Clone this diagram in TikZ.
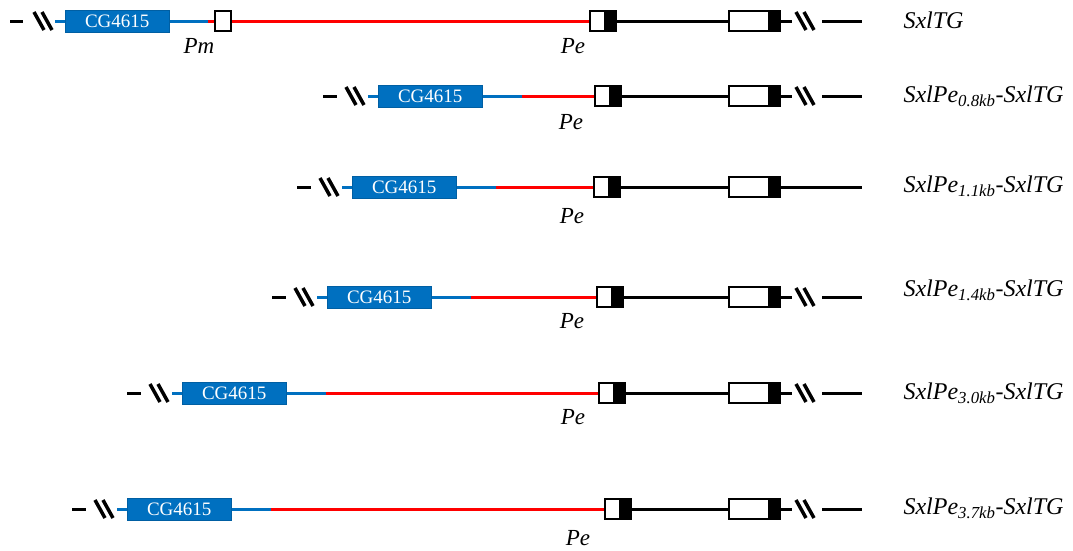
\documentclass[tikz,border=0pt]{standalone}
\usepackage{fontspec}
\setmainfont{Liberation Serif}
\usetikzlibrary{positioning}
\definecolor{geneblue}{RGB}{0,112,192}
\tikzset{
  cgbox/.style={fill=geneblue, draw=geneblue!85!black, line width=0.5pt, minimum width=104pt, minimum height=22pt, inner sep=0pt, text=white, font=\fontsize{19}{19}\selectfont},
  pebox/.style={draw, line width=2pt, fill=white, minimum width=26pt, minimum height=20pt, inner sep=0pt,
    path picture={\fill[black] ([xshift=-12pt]path picture bounding box.north east) rectangle (path picture bounding box.south east);}},
  exbox/.style={pebox, minimum width=51pt},
  pmbox/.style={draw, line width=2pt, fill=white, minimum width=16pt, minimum height=20pt, inner sep=0pt},
  blueline/.style={geneblue, line width=3pt},
  redline/.style={red, line width=3pt},
  blkline/.style={black, line width=3pt},
  cutline/.style={black, line width=3.5pt},
  rowlab/.style={font=\fontsize{24}{28}\selectfont\itshape, anchor=west},
  prolab/.style={font=\fontsize{23}{26}\selectfont\itshape},
}
\newcommand{\slashpair}[2]{\draw[cutline] (#1,#2-9) -- (#1+10,#2+9) (#1+8,#2-9) -- (#1+18,#2+9);}
\begin{document}
\begin{tikzpicture}[x=1pt,y=-1pt]
\useasboundingbox (0,0) rectangle (1073,550);
% full transgene
\node[cgbox, anchor=west] (cg1) at (65,21) {CG4615};
\node[pmbox, anchor=west] (pm1) at (214,21) {};
\node[pebox, anchor=west] (pe1) at (589,21) {};
\node[exbox, anchor=west] (ex1) at (728,21) {};
\coordinate (da1) at (10,21);
\coordinate (db1) at (23,21);
\coordinate (bs1) at (55,21);
\coordinate (rs1) at (208,21);
\coordinate (ce1) at (792,21);
\coordinate (cs1) at (822,21);
\coordinate (ee1) at (862,21);
\draw[blkline] (da1) -- (db1);
\slashpair{34}{21}
\draw[blueline] (bs1) -- (cg1.west);
\draw[blueline] (cg1.east) -- (rs1);
\draw[redline] (rs1) -- (pm1.west);
\draw[redline] (pm1.east) -- (pe1.west);
\draw[blkline] (pe1.east) -- (ex1.west);
\draw[blkline] (ex1.east) -- (ce1);
\slashpair{796}{21}
\draw[blkline] (cs1) -- (ee1);
\node[prolab] (pmlab) at (199,46) {Pm};
\node[prolab] (pelab1) at (573,46) {Pe};
\node[rowlab] (lab1) at (900,20) {SxlTG};
% deletion series
\foreach \r/\y/\xa/\xp/\sub/\cut/\plx/\ply/\ly in {
  2/96/323/593/0.8/1/571/122/96,
  3/187/297/592/1.1/0/572/216/186,
  4/297/272/595/1.4/1/572/321/290,
  5/393/127/597/3.0/1/573/417/393,
  6/509/72/603/3.7/1/578/538/508}
{
  \node[cgbox, anchor=west] (cg\r) at (\xa+55,\y) {CG4615};
  \node[pebox, anchor=west] (pe\r) at (\xp+1,\y) {};
  \node[exbox, anchor=west] (ex\r) at (728,\y) {};
  \coordinate (da\r) at (\xa,\y);
  \coordinate (db\r) at (\xa+14,\y);
  \coordinate (bs\r) at (\xa+45,\y);
  \coordinate (rs\r) at (\xa+199,\y);
  \coordinate (ee\r) at (862,\y);
  \draw[blkline] (da\r) -- (db\r);
  \slashpair{\xa+23}{\y}
  \draw[blueline] (bs\r) -- (cg\r.west);
  \draw[blueline] (cg\r.east) -- (rs\r);
  \draw[redline] (rs\r) -- (pe\r.west);
  \draw[blkline] (pe\r.east) -- (ex\r.west);
  \ifnum\cut=1
    \coordinate (ce\r) at (792,\y);
    \coordinate (cs\r) at (822,\y);
    \draw[blkline] (ex\r.east) -- (ce\r);
    \slashpair{796}{\y}
    \draw[blkline] (cs\r) -- (ee\r);
  \else
    \draw[blkline] (ex\r.east) -- (ee\r);
  \fi
  \node[prolab] (pelab\r) at (\plx,\ply) {Pe};
  \node[rowlab] (lab\r) at (900,\ly) {SxlPe\textsubscript{\sub kb}-SxlTG};
}
\end{tikzpicture}
\end{document}
